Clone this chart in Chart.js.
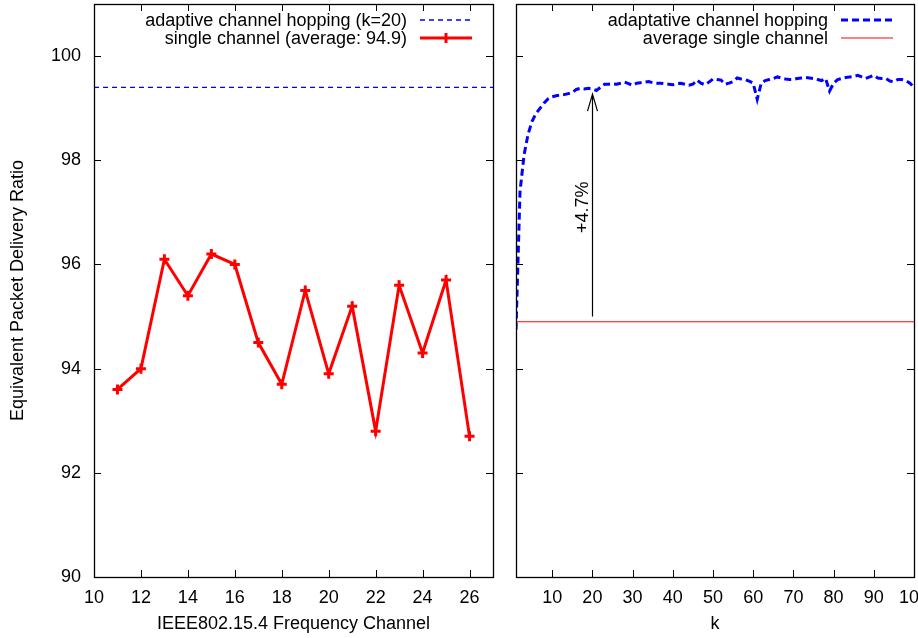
<!DOCTYPE html>
<html>
<head>
<meta charset="utf-8">
<script src="https://cdn.jsdelivr.net/npm/chart.js@4/dist/chart.umd.min.js"></script>
<style>
  html, body { margin: 0; padding: 0; background: #fff; width: 918px; height: 638px; overflow: hidden; }
  #left { position: absolute; left: 0; top: -4px; }
  #right { position: absolute; left: 505px; top: 0; }
</style>
</head>
<body>
<canvas id="left" width="505" height="642"></canvas>
<canvas id="right" width="440" height="638"></canvas>
<script>
const channels = [11, 12, 13, 14, 15, 16, 17, 18, 19, 20, 21, 22, 23, 24, 25, 26]
const singleChannel = [93.6, 94.0, 96.1, 95.4, 96.2, 96.0, 94.5, 93.7, 95.5, 93.9, 95.2, 92.8, 95.6, 94.3, 95.7, 92.7]
const hoppingK20 = 99.4
const singleAverage = 94.9

const kValues = [
  1, 2, 3, 4, 5, 6, 7, 8, 9, 10, 11, 12, 13, 14, 15, 16, 17, 18, 19, 20,
  21, 22, 23, 24, 25, 26, 27, 28, 29, 30, 31, 32, 33, 34, 35, 36, 37, 38, 39, 40,
  41, 42, 43, 44, 45, 46, 47, 48, 49, 50, 51, 52, 53, 54, 55, 56, 57, 58, 59, 60,
  61, 62, 63, 64, 65, 66, 67, 68, 69, 70, 71, 72, 73, 74, 75, 76, 77, 78, 79, 80,
  81, 82, 83, 84, 85, 86, 87, 88, 89, 90, 91, 92, 93, 94, 95, 96, 97, 98, 99, 100
]
const adaptiveHopping = [
  94.75, 97.4, 98.1, 98.5, 98.75, 98.9, 99.0, 99.1, 99.18, 99.22,
  99.24, 99.25, 99.26, 99.28, 99.3, 99.36, 99.38, 99.37, 99.38, 99.37,
  99.34, 99.4, 99.46, 99.46, 99.47, 99.46, 99.48, 99.5, 99.47, 99.44,
  99.48, 99.49, 99.5, 99.51, 99.49, 99.48, 99.48, 99.47, 99.46, 99.45,
  99.47, 99.48, 99.46, 99.44, 99.46, 99.54, 99.48, 99.45, 99.5, 99.56,
  99.55, 99.54, 99.46, 99.48, 99.51, 99.58, 99.56, 99.55, 99.52, 99.48,
  99.17, 99.48, 99.53, 99.55, 99.57, 99.6, 99.58, 99.56, 99.55, 99.55,
  99.57, 99.58, 99.59, 99.58, 99.57, 99.55, 99.53, 99.57, 99.33, 99.48,
  99.55, 99.57, 99.59, 99.6, 99.61, 99.63, 99.6, 99.57, 99.6, 99.63,
  99.58, 99.57, 99.57, 99.52, 99.51, 99.55, 99.55, 99.53, 99.48, 99.4
]

const arrowK = 20
const arrowFrom = 95.0
const arrowTo = 99.27
const arrowLabel = "+4.7%"
const arrowLabelAt = 97.1

const xTicksChannel = [10, 12, 14, 16, 18, 20, 22, 24, 26]
const xTicksK = [10, 20, 30, 40, 50, 60, 70, 80, 90, 100]
const yTicks = [90, 92, 94, 96, 98, 100]

const fonte = { family: "'Liberation Sans', Arial, Helvetica, sans-serif", size: 18 }
const fonteCss = "18px 'Liberation Sans', Arial, Helvetica, sans-serif"

function fixarTicks(lista) {
  return scale => { scale.ticks = lista.map(v => ({ value: v })) }
}

// moldura estilo gnuplot: borda + ticks para dentro nos quatro lados
const molduraPlugin = {
  id: "moldura",
  afterDatasetsDraw(chart) {
    const { ctx, chartArea: a, scales } = chart
    ctx.save()
    ctx.strokeStyle = "#000"
    ctx.lineWidth = 1
    ctx.beginPath()
    scales.x.ticks.forEach(t => {
      const px = Math.round(scales.x.getPixelForValue(t.value)) + 0.5
      ctx.moveTo(px, a.bottom)
      ctx.lineTo(px, a.bottom - 7)
      ctx.moveTo(px, a.top)
      ctx.lineTo(px, a.top + 7)
    })
    scales.y.ticks.forEach(t => {
      const py = Math.round(scales.y.getPixelForValue(t.value)) + 0.5
      ctx.moveTo(a.left, py)
      ctx.lineTo(a.left + 7, py)
      ctx.moveTo(a.right, py)
      ctx.lineTo(a.right - 7, py)
    })
    ctx.stroke()
    ctx.lineWidth = 1.3
    ctx.strokeRect(Math.round(a.left) + 0.5, Math.round(a.top) + 0.5, Math.round(a.width), Math.round(a.height))
    ctx.restore()
  }
}

// legenda no canto superior direito, texto à esquerda e amostra à direita
const legendaPlugin = {
  id: "legenda",
  afterDraw(chart, args, opts) {
    const { ctx, chartArea: a } = chart
    ctx.save()
    ctx.font = fonteCss
    ctx.textAlign = "right"
    ctx.textBaseline = "middle"
    opts.itens.forEach((item, i) => {
      const y = a.top + 16 + i * 18
      ctx.fillStyle = "#000"
      ctx.fillText(item.texto, a.right - 86, y + 1)
      ctx.strokeStyle = item.cor
      ctx.lineWidth = item.largura
      ctx.setLineDash(item.dash || [])
      ctx.beginPath()
      ctx.moveTo(a.right - 73, y)
      ctx.lineTo(a.right - 21, y)
      ctx.stroke()
      ctx.setLineDash([])
      if (item.marcador) {
        const cx = a.right - 47
        ctx.lineWidth = 3
        ctx.beginPath()
        ctx.moveTo(cx, y - 5)
        ctx.lineTo(cx, y + 5)
        ctx.stroke()
      }
    })
    ctx.restore()
  }
}

const setaPlugin = {
  id: "seta",
  afterDatasetsDraw(chart) {
    const { ctx, scales } = chart
    const x = Math.round(scales.x.getPixelForValue(arrowK)) + 0.5
    const y1 = scales.y.getPixelForValue(arrowFrom)
    const y2 = scales.y.getPixelForValue(arrowTo)
    ctx.save()
    ctx.strokeStyle = "#000"
    ctx.lineWidth = 1.2
    ctx.beginPath()
    ctx.moveTo(x, y1)
    ctx.lineTo(x, y2)
    ctx.moveTo(x - 5, y2 + 17)
    ctx.lineTo(x, y2)
    ctx.lineTo(x + 5, y2 + 17)
    ctx.stroke()
    ctx.translate(x - 9, scales.y.getPixelForValue(arrowLabelAt))
    ctx.rotate(-Math.PI / 2)
    ctx.font = fonteCss
    ctx.fillStyle = "#000"
    ctx.textAlign = "center"
    ctx.textBaseline = "middle"
    ctx.fillText(arrowLabel, 0, 0)
    ctx.restore()
  }
}

function eixoX(min, max, ticks, titulo) {
  return {
    type: "linear",
    min, max,
    afterBuildTicks: fixarTicks(ticks),
    afterFit: s => { s.height = 61; s.paddingLeft = 0; s.paddingRight = 0 },
    grid: { display: false, drawTicks: false },
    border: { display: false },
    ticks: { padding: 10, color: "#000", font: fonte, maxRotation: 0, callback: v => String(v) },
    title: { display: true, text: titulo, color: "#000", font: fonte, padding: { top: 0, bottom: 3 } }
  }
}

function desenharEsquerda() {
  new Chart(document.getElementById("left"), {
    type: "line",
    data: {
      datasets: [{
        label: "adaptive channel hopping (k=20)",
        data: [{ x: 10, y: hoppingK20 }, { x: 27, y: hoppingK20 }],
        borderColor: "#0000ff",
        borderWidth: 1.4,
        borderDash: [5, 4],
        pointRadius: 0
      }, {
        label: "single channel (average: 94.9)",
        data: channels.map((c, i) => ({ x: c, y: singleChannel[i] })),
        borderColor: "#ff0000",
        backgroundColor: "#ff0000",
        borderWidth: 3,
        pointStyle: "cross",
        pointRadius: 5,
        pointBorderWidth: 3,
        pointBorderColor: "#ff0000"
      }]
    },
    options: {
      responsive: false,
      animation: false,
      devicePixelRatio: 1,
      layout: { padding: { top: 0, right: 12, left: 0, bottom: 0 } },
      plugins: {
        legend: { display: false },
        tooltip: { enabled: false },
        legenda: {
          itens: [
            { texto: "adaptive channel hopping (k=20)", cor: "#0000ff", largura: 1.4, dash: [5, 4] },
            { texto: "single channel (average: 94.9)", cor: "#ff0000", largura: 3, marcador: true }
          ]
        }
      },
      scales: {
        x: eixoX(10, 27, xTicksChannel, "IEEE802.15.4 Frequency Channel"),
        y: {
          min: 90, max: 101,
          afterBuildTicks: fixarTicks(yTicks),
          afterFit: s => { s.width = 94; s.paddingTop = 0; s.paddingBottom = 0 },
          grid: { display: false, drawTicks: false },
          border: { display: false },
          ticks: { padding: 13, color: "#000", font: fonte, callback: v => String(v) },
          title: { display: true, text: "Equivalent Packet Delivery Ratio", color: "#000", font: fonte, padding: { top: 7, bottom: 0 } }
        }
      }
    },
    plugins: [molduraPlugin, legendaPlugin]
  })
}

function desenharDireita() {
  new Chart(document.getElementById("right"), {
    type: "line",
    data: {
      datasets: [{
        label: "adaptative channel hopping",
        data: kValues.map((k, i) => ({ x: k, y: adaptiveHopping[i] })),
        borderColor: "#0000ff",
        borderWidth: 3,
        borderDash: [7, 4],
        pointRadius: 0,
        tension: 0
      }, {
        label: "average single channel",
        data: [{ x: 1, y: singleAverage }, { x: 100, y: singleAverage }],
        borderColor: "#ff0000",
        borderWidth: 1,
        pointRadius: 0
      }]
    },
    options: {
      responsive: false,
      animation: false,
      devicePixelRatio: 1,
      layout: { padding: { top: 4, right: 31, left: 0, bottom: 0 } },
      plugins: {
        legend: { display: false },
        tooltip: { enabled: false },
        legenda: {
          itens: [
            { texto: "adaptative channel hopping", cor: "#0000ff", largura: 3, dash: [7, 4] },
            { texto: "average single channel", cor: "#ff0000", largura: 1 }
          ]
        }
      },
      scales: {
        x: eixoX(1, 100, xTicksK, "k"),
        y: {
          min: 90, max: 101,
          afterBuildTicks: fixarTicks(yTicks),
          afterFit: s => { s.width = 11; s.paddingTop = 0; s.paddingBottom = 0 },
          grid: { display: false, drawTicks: false },
          border: { display: false },
          ticks: { display: false },
          title: { display: false }
        }
      }
    },
    plugins: [molduraPlugin, legendaPlugin, setaPlugin]
  })
}

desenharEsquerda()
desenharDireita()
</script>
</body>
</html>
